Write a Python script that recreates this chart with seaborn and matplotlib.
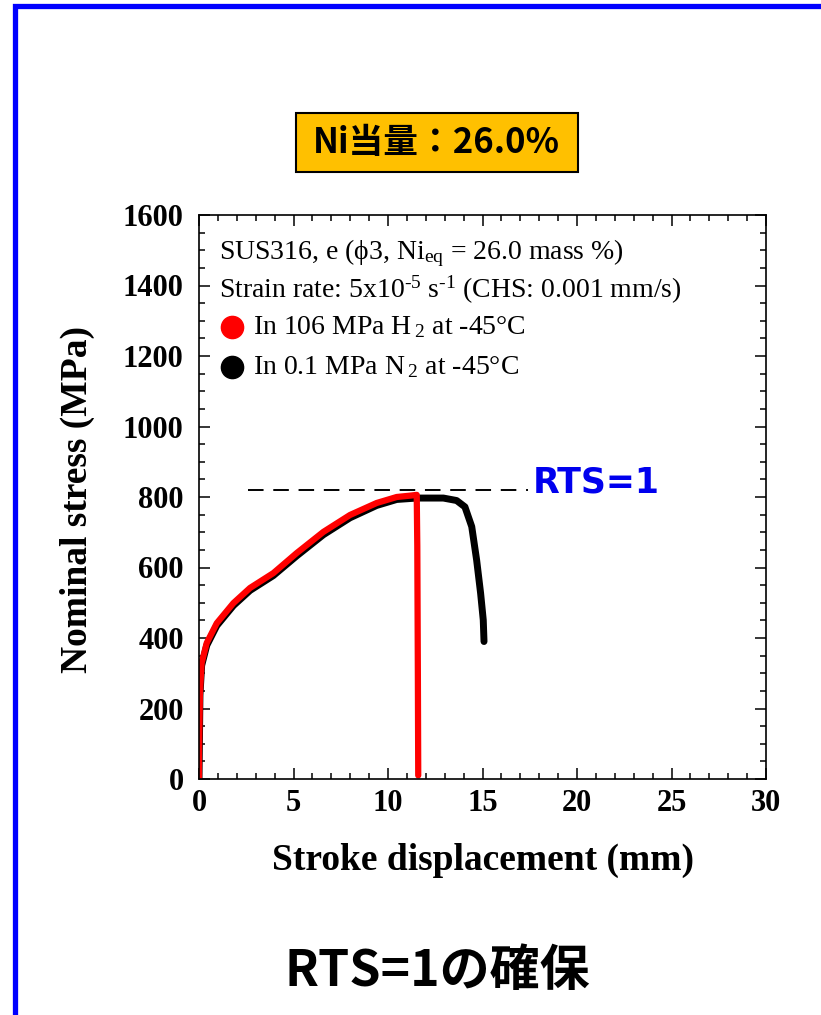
import matplotlib
matplotlib.use("Agg")
import matplotlib.pyplot as plt
import seaborn as sns
import numpy as np
from matplotlib.lines import Line2D
from matplotlib.patches import Rectangle
from matplotlib.ticker import MultipleLocator

# =========================
# Data
# =========================
# 106 MPa H2 at -45 C (red)
h2_x = [0.00, 0.00, 0.05, 0.14, 0.41, 0.94, 1.82, 2.70, 3.93, 5.17, 6.58, 7.99, 9.40, 10.46, 11.20, 11.52, 11.55, 11.58, 11.60]
h2_y = [3, 74, 244, 329, 386, 442, 499, 542, 584, 641, 701, 749, 783, 800, 804, 806, 660, 300, 10]

# 0.1 MPa N2 at -45 C (black)
n2_x = [0.00, 0.05, 0.14, 0.41, 0.94, 1.82, 2.70, 3.93, 5.17, 6.58, 7.99, 9.40, 10.46, 11.52, 11.87, 12.93, 13.63, 14.07, 14.43, 14.69, 14.90, 15.04, 15.08]
n2_y = [0, 238, 322, 379, 435, 492, 535, 577, 633, 693, 741, 776, 793, 797, 797, 797, 790, 772, 716, 621, 527, 451, 390]

rts_level = 820
rts_x = [2.6, 17.4]

x_ticks = [0, 5, 10, 15, 20, 25, 30]
y_ticks = [0, 200, 400, 600, 800, 1000, 1200, 1400, 1600]

# =========================
# Style
# =========================
sns.set_style("ticks")
plt.rcParams['font.family'] = ['Liberation Serif', 'DejaVu Serif']
plt.rcParams['mathtext.fontset'] = 'custom'
plt.rcParams['mathtext.rm'] = 'Liberation Serif'
plt.rcParams['mathtext.it'] = 'Liberation Serif:italic'
plt.rcParams['mathtext.bf'] = 'Liberation Serif:bold'
for k in ["text.color", "axes.labelcolor", "xtick.color", "ytick.color", "axes.edgecolor"]:
    plt.rcParams[k] = "black"

fig = plt.figure(figsize=(8.21, 10.15), dpi=100)
ax = fig.add_axes([199 / 821, 1 - 779 / 1015, 567 / 821, 564 / 1015])

sns.lineplot(x=n2_x, y=n2_y, sort=False, estimator=None, color="black", lw=5, ax=ax)
sns.lineplot(x=h2_x, y=h2_y, sort=False, estimator=None, color="#ff0000", lw=4.5, ax=ax)
ax.plot(rts_x, [rts_level, rts_level], color="black", lw=1.4, dashes=(8, 5))
ax.text(rts_x[1] + 0.25, rts_level + 20, "RTS=1", color="#0000ee", fontsize=25,
        fontweight="bold", family=["DejaVu Sans"], va="center", ha="left")

ax.set_xlim(0, 30)
ax.set_ylim(0, 1600)
ax.set_xticks(x_ticks)
ax.set_yticks(y_ticks)
ax.xaxis.set_minor_locator(MultipleLocator(1))
ax.yaxis.set_minor_locator(MultipleLocator(50))
ax.tick_params(which="both", direction="in", top=True, right=True, width=1.1)
ax.tick_params(which="major", length=8, labelsize=22)
ax.tick_params(axis="x", which="major", pad=7)
ax.tick_params(axis="y", which="major", pad=11)
ax.tick_params(which="minor", length=4.5)
for lab in ax.get_xticklabels() + ax.get_yticklabels():
    lab.set_fontweight("bold")
for s in ax.spines.values():
    s.set_linewidth(1.2)
    s.set_color("black")

ax.set_xlabel("Stroke displacement (mm)", fontsize=27, fontweight="bold")
ax.set_ylabel("Nominal stress (MPa)", fontsize=27, fontweight="bold")
ax.xaxis.set_label_coords(0.5, -0.144)
ax.xaxis.label.set_va("center")
ax.yaxis.set_label_coords(-0.215, 0.495)
ax.yaxis.label.set_va("center")

# legend-like text block
ax.text(0.035, 0.933, "SUS316, e (ϕ3, Ni$_{\\rm eq}$ = 26.0 mass %)", transform=ax.transAxes,
        fontsize=20, va="center", ha="left")
ax.text(0.035, 0.867, "Strain rate: 5x10$^{\u20105}$ s$^{\u20101}$ (CHS: 0.001 mm/s)", transform=ax.transAxes,
        fontsize=20, va="center", ha="left")
ax.plot([0.058], [0.801], "o", ms=16, color="#ff0000", transform=ax.transAxes, clip_on=False)
ax.plot([0.058], [0.730], "o", ms=16, color="black", transform=ax.transAxes, clip_on=False)
ax.text(0.095, 0.801, r"In 106 MPa H$\,_2$ at -45°C", transform=ax.transAxes,
        fontsize=20, va="center", ha="left")
ax.text(0.095, 0.730, r"In 0.1 MPa N$\,_2$ at -45°C", transform=ax.transAxes,
        fontsize=20, va="center", ha="left")

# header box
fig.patches.append(Rectangle((296 / 821, 1 - 172 / 1015), 282 / 821, 59 / 1015,
                             transform=fig.transFigure, facecolor="#ffc000",
                             edgecolor="black", lw=1.5))
fig.text(436 / 821, 1 - 143 / 1015, "Ni当量：26.0%", fontsize=25, fontweight="bold",
         family=["Noto Sans CJK JP", "DejaVu Sans"], ha="center", va="center")

# bottom caption
fig.text(437 / 821, 1 - 972 / 1015, "RTS=1の確保", fontsize=36, fontweight="bold",
         family=["Noto Sans CJK JP", "DejaVu Sans"], ha="center", va="center")

# blue frame (top and left)
fig.add_artist(Line2D([14.5 / 821, 14.5 / 821, 1.0], [0.0, 1 - 5.5 / 1015, 1 - 5.5 / 1015],
                      transform=fig.transFigure, color="#0000ff", lw=3.8,
                      solid_joinstyle="miter"))

fig.savefig("out.png", dpi=100)
